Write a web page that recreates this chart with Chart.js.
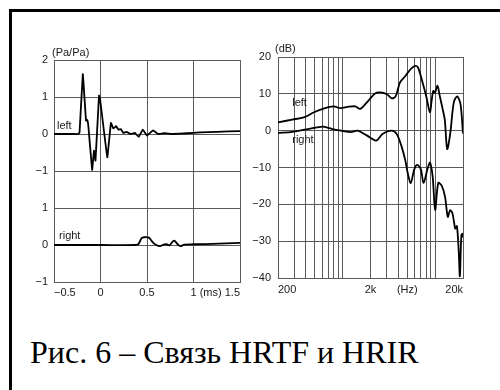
<!DOCTYPE html>
<html><head><meta charset="utf-8">
<script src="https://cdn.jsdelivr.net/npm/chart.js@4.4.1/dist/chart.umd.min.js"></script>
<style>
html,body{margin:0;padding:0;background:#fff;}
body{width:500px;height:390px;position:relative;overflow:hidden;}
#frame{position:absolute;left:9px;top:9px;width:500px;height:400px;border-top:3px solid #000;border-left:3px solid #000;}
#c1{position:absolute;left:0;top:0;width:245px;height:320px;}
#c2{position:absolute;left:245px;top:0;width:255px;height:320px;}
#caption{position:absolute;left:30px;top:336px;font-family:"Liberation Serif","Times New Roman",serif;font-size:32px;line-height:32px;color:#000;white-space:nowrap;}
</style></head>
<body>
<div id="frame"></div>
<canvas id="c1" width="245" height="320"></canvas>
<canvas id="c2" width="255" height="320"></canvas>
<div id="caption">Рис. 6 – Связь HRTF и HRIR</div>
<script>
// ---------- HRIR data (time in ms, pressure in Pa/Pa) ----------
const irLeftTime = [-0.5, -0.3, -0.235, -0.225, -0.19, -0.156, -0.142, -0.13, -0.09, -0.07, -0.054, -0.016, -0.005, 0.073, 0.112, 0.138, 0.167, 0.192, 0.217, 0.245, 0.28, 0.32, 0.37, 0.41, 0.455, 0.5, 0.565, 0.62, 0.68, 0.78, 0.93, 1.07, 1.25, 1.5];
const irLeft     = [0, 0, 0, 0.05, 1.62, 0.36, 0.38, 0.2, -0.97, -0.45, -0.72, 1.04, 0.95, -0.63, 0.3, 0.15, 0.21, 0.12, 0.135, 0.03, 0.06, 0.0, 0.03, -0.08, 0.12, -0.04, 0.1, 0.0, 0.02, 0.0, 0.02, 0.045, 0.06, 0.08];
const irRightTime = [-0.5, 0.0, 0.38, 0.41, 0.44, 0.47, 0.52, 0.56, 0.6, 0.64, 0.68, 0.71, 0.74, 0.79, 0.83, 0.86, 0.9, 1.0, 1.2, 1.5];
const irRight     = [0, 0, 0, 0.03, 0.18, 0.21, 0.2, 0.08, 0.0, -0.03, 0.01, 0.02, -0.01, 0.12, 0.02, -0.03, 0.01, 0.02, 0.03, 0.06];
const irXTicks  = [-0.5, 0, 0.5, 1, 1.5];
const irXLabels = ['−0.5', '0', '0.5', '1', '(ms) 1.5'];
const irYTicks  = [-1, 0, 1, 2, 3, 4, 5];            // stacked panel rows
const irYLabels = ['−1', '0', '1', '−1', '0', '1', '2'];
const irLeftOffset = 3;                               // left trace drawn above the right trace

// ---------- HRTF data (frequency in Hz, level in dB) ----------
const tfLeftFreq = [200, 285, 380, 490, 620, 800, 940, 1160, 1370, 1550, 1830, 2240, 2540, 3000, 3390, 3740, 4170, 4790, 5460, 6130, 6540, 7400, 8070, 8770, 9200, 9550, 9950, 10600, 11200, 11900, 12700, 13500, 14600, 15900, 17300, 18800, 20000];
const tfLeft     = [2.25, 3.0, 3.6, 5.0, 6.0, 6.6, 6.1, 6.5, 6.6, 5.9, 7.7, 10.1, 10.4, 9.9, 8.8, 9.3, 13.1, 14.9, 16.8, 17.6, 17.1, 12.6, 9.0, 5.0, 8.5, 10.8, 10.3, 12.2, 9.5, 6.5, 3.0, -5.0, -0.5, 7.7, 9.3, 7.2, -0.8];
const tfRightFreq = [200, 285, 390, 530, 620, 760, 960, 1230, 1450, 1800, 2300, 2700, 3390, 3840, 4300, 4750, 5050, 5450, 5950, 6400, 7000, 7500, 8300, 8800, 9400, 10000, 10800, 11800, 12800, 13700, 14500, 15400, 16500, 17200, 18000, 18500, 19200, 19800, 20000];
const tfRight     = [-0.6, -0.3, 0.3, 0.9, 1.1, 0.5, 0.0, -0.4, 0.0, -1.2, -2.7, -0.9, 0.0, -0.9, -4.0, -8.0, -11.5, -14.2, -10.5, -9.3, -10.5, -14.2, -10.2, -8.7, -12.5, -21.5, -14.2, -15.0, -18.0, -23.4, -21.6, -22.5, -26.6, -25.9, -33.0, -39.5, -28.4, -28.0, -29.0];
const freqGrid = [200, 300, 400, 500, 600, 700, 800, 900, 1000, 2000, 3000, 4000, 5000, 6000, 7000, 8000, 9000, 10000, 20000];
const freqLabels = {200: '200', 2000: '2k', 5000: '(Hz)', 20000: '20k'};
const dbTicks = [-40, -30, -20, -10, 0, 10, 20];

// ---------- styles ----------
const gridColor = '#5a5a5a';
const textColor = '#1a1a1a';
const lineColor = '#000';
const tickFont = {family: '"Liberation Sans", Arial, sans-serif', size: 11};

const textPlugin = {
  id: 'textLabels',
  afterDraw(chart, args, opts) {
    const ctx = chart.ctx, xs = chart.scales.x, ys = chart.scales.y, a = chart.chartArea;
    ctx.save();
    ctx.fillStyle = opts.color;
    ctx.font = opts.font;
    ctx.textBaseline = 'middle';
    ctx.textAlign = 'left';
    (opts.items || []).forEach(it => ctx.fillText(it.text, xs.getPixelForValue(it.x), ys.getPixelForValue(it.y)));
    if (opts.unit) ctx.fillText(opts.unit, a.left + opts.unitDx, a.top + opts.unitDy);
    ctx.restore();
  }
};

function pts(xs, ys, off) { return xs.map((x, i) => ({x: x, y: ys[i] + (off || 0)})); }

const lineStyle = {borderColor: lineColor, borderWidth: 1.8, pointRadius: 0, fill: false};

new Chart(document.getElementById('c1'), {
  type: 'line',
  data: {datasets: [
    Object.assign({label: 'left', data: pts(irLeftTime, irLeft, irLeftOffset), tension: 0.05}, lineStyle),
    Object.assign({label: 'right', data: pts(irRightTime, irRight), tension: 0.3}, lineStyle)
  ]},
  options: {
    responsive: false, animation: false, devicePixelRatio: 1,
    layout: {padding: {left: 0, right: 5, top: 60, bottom: 0}},
    plugins: {legend: {display: false}, tooltip: {enabled: false},
      textLabels: {color: textColor, font: '11px "Liberation Sans", Arial, sans-serif',
        items: [{text: 'left', x: -0.468, y: 3.22}, {text: 'right', x: -0.446, y: 0.24}],
        unit: '(Pa/Pa)', unitDx: -2, unitDy: -7}},
    scales: {
      x: {type: 'linear', min: -0.5, max: 1.5,
        afterBuildTicks: s => { s.ticks = irXTicks.map(v => ({value: v})); },
        afterFit: s => { s.height = 38; },
        grid: {color: gridColor, lineWidth: 1, drawTicks: false},
        border: {color: gridColor, width: 1},
        ticks: {font: tickFont, color: textColor, padding: 4, align: 'inner', maxRotation: 0, autoSkip: false,
          callback: (v, i) => irXLabels[irXTicks.indexOf(v)]}},
      y: {type: 'linear', min: -1, max: 5,
        afterBuildTicks: s => { s.ticks = irYTicks.map(v => ({value: v})); },
        afterFit: s => { s.width = 54; },
        grid: {color: gridColor, lineWidth: 1, drawTicks: false},
        border: {color: gridColor, width: 1},
        ticks: {font: tickFont, color: textColor, padding: 6, autoSkip: false,
          callback: v => irYLabels[irYTicks.indexOf(v)]}}
    }
  },
  plugins: [textPlugin]
});

new Chart(document.getElementById('c2'), {
  type: 'line',
  data: {datasets: [
    Object.assign({label: 'left', data: pts(tfLeftFreq, tfLeft), tension: 0.3}, lineStyle),
    Object.assign({label: 'right', data: pts(tfRightFreq, tfRight), tension: 0.3}, lineStyle)
  ]},
  options: {
    responsive: false, animation: false, devicePixelRatio: 1,
    layout: {padding: {left: 0, right: 37, top: 57, bottom: 0}},
    plugins: {legend: {display: false}, tooltip: {enabled: false},
      textLabels: {color: textColor, font: '11px "Liberation Sans", Arial, sans-serif',
        items: [{text: 'left', x: 285, y: 7.6}, {text: 'right', x: 285, y: -2.45}],
        unit: '(dB)', unitDx: -3, unitDy: -8}},
    scales: {
      x: {type: 'logarithmic', min: 200, max: 20000,
        afterBuildTicks: s => { s.ticks = freqGrid.map(v => ({value: v})); },
        afterFit: s => { s.height = 42; },
        grid: {color: gridColor, lineWidth: 1, drawTicks: false},
        border: {color: gridColor, width: 1},
        ticks: {font: tickFont, color: textColor, padding: 5, align: 'inner', maxRotation: 0, autoSkip: false,
          callback: v => freqLabels[v] || ''}},
      y: {type: 'linear', min: -40, max: 20,
        afterBuildTicks: s => { s.ticks = dbTicks.map(v => ({value: v})); },
        afterFit: s => { s.width = 33; },
        grid: {color: gridColor, lineWidth: 1, drawTicks: false},
        border: {color: gridColor, width: 1},
        ticks: {font: tickFont, color: textColor, padding: 7, autoSkip: false,
          callback: v => String(v).replace('-', '−')}}
    }
  },
  plugins: [textPlugin]
});
</script>
</body></html>
